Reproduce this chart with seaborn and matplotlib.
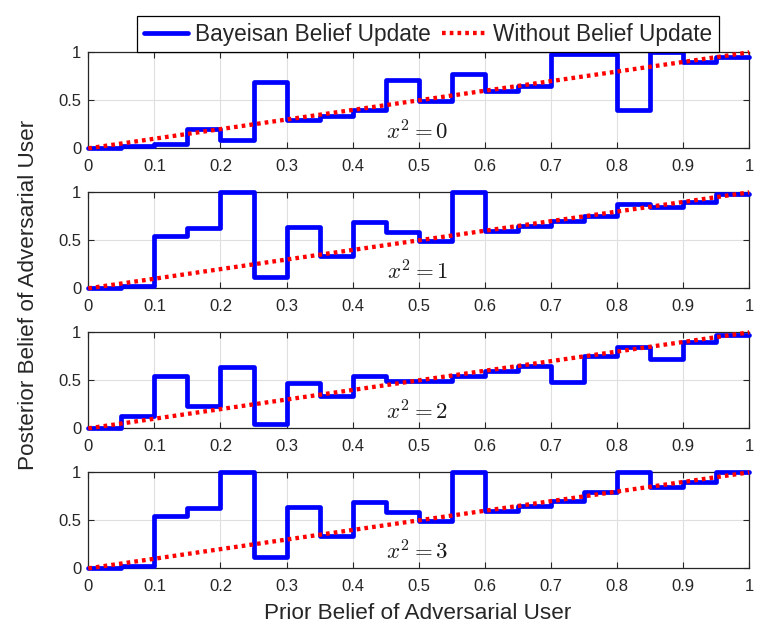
import numpy as np
import pandas as pd
import matplotlib
matplotlib.use("Agg")
import matplotlib.pyplot as plt
import seaborn as sns
from matplotlib.lines import Line2D

# Prior belief bin edges (0 to 1 in steps of 0.05)
prior = [0.0, 0.05, 0.1, 0.15, 0.2, 0.25, 0.3, 0.35, 0.4, 0.45, 0.5,
         0.55, 0.6, 0.65, 0.7, 0.75, 0.8, 0.85, 0.9, 0.95, 1.0]

# Posterior belief per bin (one list per x^2 value)
post_x0 = [0.0, 0.02, 0.05, 0.20, 0.09, 0.69, 0.29, 0.34, 0.40, 0.71,
           0.49, 0.77, 0.60, 0.65, 0.98, 0.98, 0.40, 1.0, 0.90, 0.95]
post_x1 = [0.0, 0.02, 0.55, 0.63, 1.0, 0.12, 0.64, 0.34, 0.69, 0.59,
           0.49, 1.0, 0.60, 0.65, 0.70, 0.75, 0.88, 0.85, 0.90, 0.98]
post_x2 = [0.0, 0.13, 0.55, 0.23, 0.64, 0.05, 0.47, 0.34, 0.55, 0.49,
           0.49, 0.55, 0.60, 0.65, 0.48, 0.75, 0.85, 0.72, 0.90, 0.97]
post_x3 = [0.0, 0.02, 0.55, 0.63, 1.0, 0.12, 0.64, 0.34, 0.69, 0.59,
           0.49, 1.0, 0.60, 0.65, 0.70, 0.80, 1.0, 0.85, 0.90, 1.0]

panels = [("0", post_x0), ("1", post_x1), ("2", post_x2), ("3", post_x3)]

sns.set_theme(style="whitegrid")
plt.rcParams['font.family'] = ['Liberation Sans', 'DejaVu Sans']
plt.rcParams['mathtext.fontset'] = 'cm'

fig = plt.figure(figsize=(7.8, 6.44), dpi=100)

left, width, height = 0.1132, 0.8474, 0.149
bottoms = [0.7697, 0.5523, 0.3349, 0.1175]

txt_color = '#262626'
blue_lw = 3.4
red_lw = 3.1
red_ls = (0, (0.85, 0.95))

for (lab, post), bottom in zip(panels, bottoms):
    ax = fig.add_axes([left, bottom, width, height])
    df = pd.DataFrame({
        'prior': prior,
        'posterior': post + [post[-1]],
        'baseline': prior,
    })
    sns.lineplot(data=df, x='prior', y='posterior', ax=ax, color='#0000ff',
                 lw=blue_lw, drawstyle='steps-post', estimator=None, sort=False,
                 clip_on=False, zorder=3)
    sns.lineplot(data=df, x='prior', y='baseline', ax=ax, color='#ff0000',
                 lw=red_lw, linestyle=red_ls, estimator=None,
                 clip_on=False, zorder=4)
    ax.set_xlim(0, 1)
    ax.set_ylim(0, 1)
    ax.set_xticks(np.arange(0, 1.01, 0.1))
    ax.set_xticklabels(['0', '0.1', '0.2', '0.3', '0.4', '0.5', '0.6',
                        '0.7', '0.8', '0.9', '1'])
    ax.set_yticks([0, 0.5, 1])
    ax.set_yticklabels(['0', '0.5', '1'])
    ax.set_xlabel('')
    ax.set_ylabel('')
    ax.grid(True, color='#dfdfdf', lw=0.8)
    for s in ax.spines.values():
        s.set_visible(True)
        s.set_color('#262626')
        s.set_linewidth(0.9)
    ax.tick_params(direction='in', length=4, width=0.8, top=True, right=True,
                   bottom=True, left=True, labelsize=12, colors=txt_color)
    ax.tick_params(axis='x', pad=8)
    ax.tick_params(axis='y', pad=5)
    ax.text(0.498, 0.165, r'$x^2 = ' + lab + '$', fontsize=16.5,
            ha='center', va='center', color='#1a1a1a', zorder=5)

handles = [Line2D([], [], color='#0000ff', lw=blue_lw),
           Line2D([], [], color='#ff0000', lw=red_lw, linestyle=red_ls)]
leg = fig.legend(handles, ['Bayeisan Belief Update', 'Without Belief Update'],
                 loc='center', bbox_to_anchor=(0.549, 0.947), ncol=2,
                 fontsize=16.3, frameon=True, fancybox=False,
                 handlelength=1.95, columnspacing=0.5, handletextpad=0.3,
                 borderpad=0.3, borderaxespad=0)
leg.get_frame().set_edgecolor('black')
leg.get_frame().set_linewidth(0.9)
leg.get_frame().set_alpha(1)

fig.text(0.536, 0.0388, 'Prior Belief of Adversarial User', ha='center',
         va='baseline', fontsize=16.2, color=txt_color)
fig.text(0.037, 0.542, 'Posterior Belief of Adversarial User', ha='center',
         va='center', rotation=90, fontsize=16.2, color=txt_color)

fig.savefig('out.png', dpi=100)
